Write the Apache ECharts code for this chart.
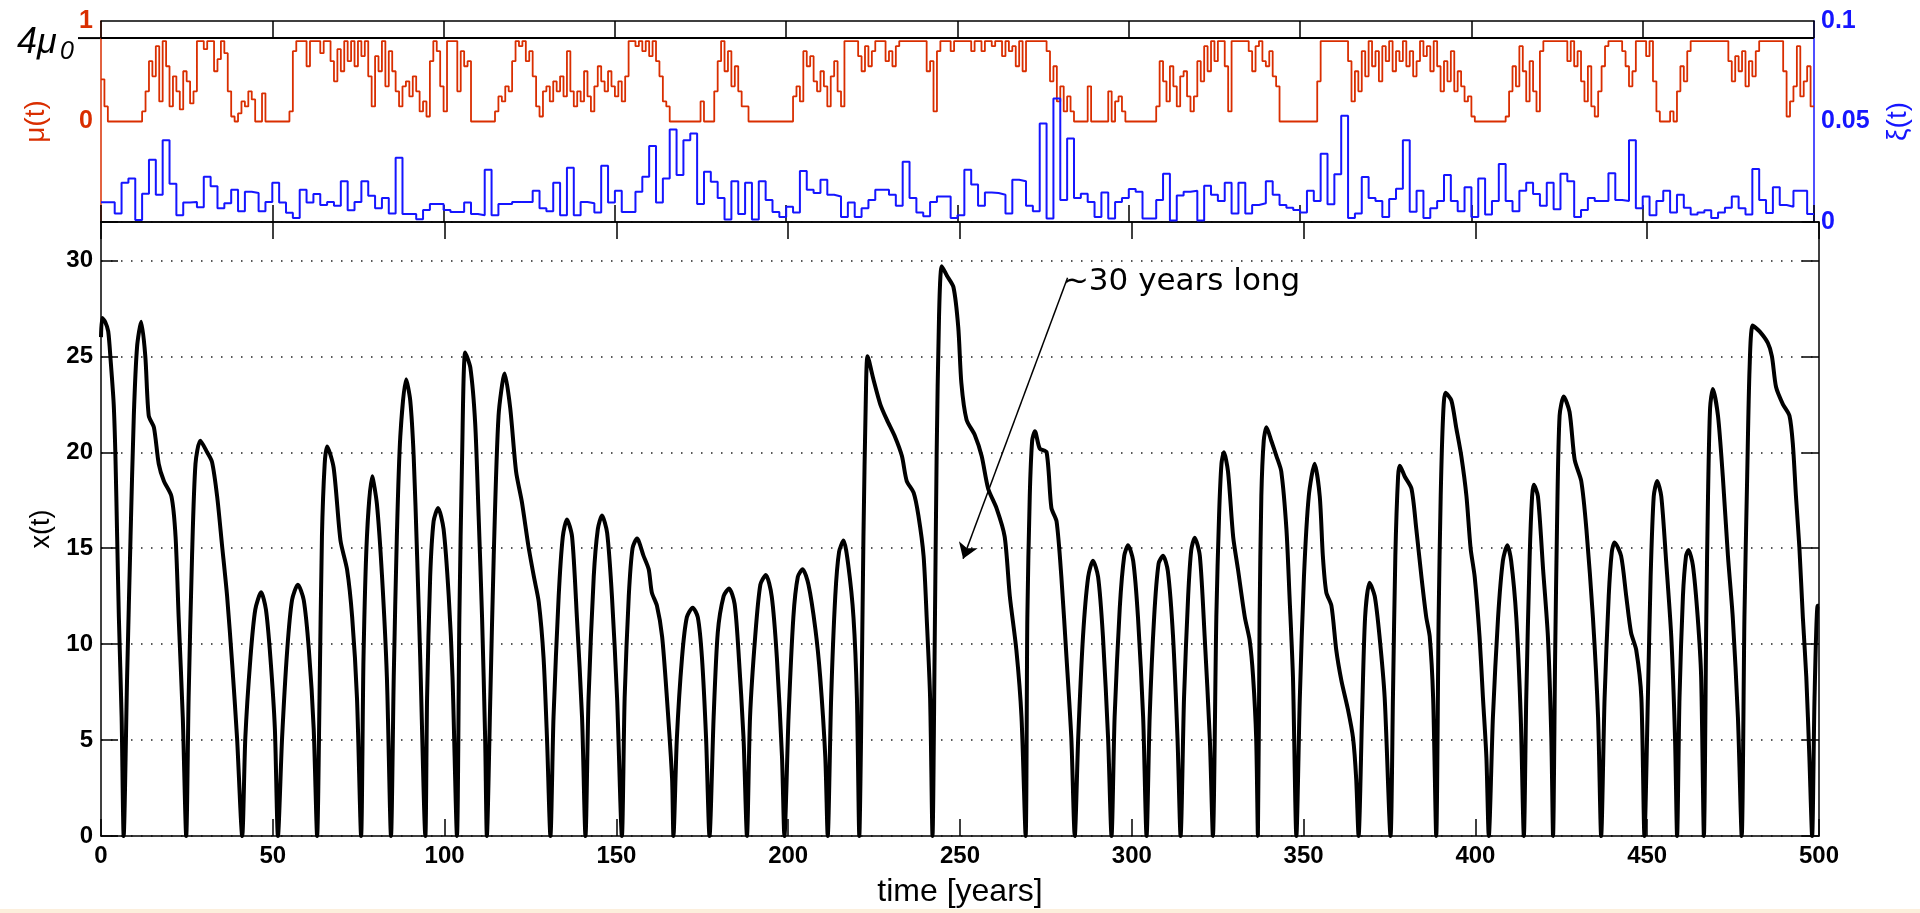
<!DOCTYPE html>
<html>
<head>
<meta charset="utf-8">
<title>mu(t), xi(t), x(t)</title>
<script src="https://cdn.jsdelivr.net/npm/echarts@6/dist/echarts.min.js"></script>
<style>
html, body { margin: 0; padding: 0; background: #fff; }
#main { width: 1920px; height: 913px; }
</style>
</head>
<body>
<div id="main"></div>
<script>
// mu(t), one value per year (0..499)
var muValue = [
  .42,.15,0,0,0,0,0,0,0,0,
  0,0,.1,.3,.6,.45,.75,.2,.8,.55,
  .15,.45,.3,.12,.5,.4,.18,.3,.8,.8,
  .72,.8,.8,.5,.62,.8,.68,.3,.05,0,
  .08,.2,.15,.3,.22,0,0,.28,0,0,
  0,0,0,0,0,.1,.7,.8,.8,.8,
  .55,.8,.8,.8,.68,.8,.8,.6,.4,.72,
  .5,.8,.6,.8,.55,.8,.65,.8,.45,.15,
  .65,.5,.8,.35,.7,.5,.3,.15,.35,.4,
  .25,.45,.3,.1,.2,.05,.6,.8,.7,.35,
  .1,.8,.8,.8,.3,.7,.55,.6,0,0,
  0,0,0,0,0,.1,.25,.2,.35,.3,
  .6,.8,.75,.8,.6,.7,.45,.15,.05,.3,
  .35,.2,.4,.3,.45,.25,.7,.3,.15,.3,
  .2,.5,.25,.1,.35,.55,.4,.3,.5,.35,
  .25,.4,.2,.45,.8,.8,.75,.8,.7,.8,
  .65,.8,.6,.45,.2,.15,0,0,0,0,
  0,0,0,0,0,.2,0,0,0,.3,
  .6,.8,.5,.7,.35,.55,.3,.15,.15,0,
  0,0,0,0,0,0,0,0,0,0,
  0,0,.25,.35,.2,.7,.55,.65,.4,.3,
  .5,.35,.15,.45,.6,.3,.15,.8,.8,.8,
  .8,.65,.5,.75,.55,.7,.8,.8,.8,.6,
  .7,.55,.75,.8,.8,.8,.8,.8,.8,.8,
  .8,.5,.6,.1,.7,.8,.8,.8,.7,.8,
  .8,.8,.8,.8,.7,.8,.8,.7,.8,.8,
  .75,.8,.8,.65,.8,.7,.75,.55,.8,.5,
  .8,.8,.8,.8,.8,.8,.7,.4,.55,.2,
  .35,.1,.25,.1,0,0,0,0,.35,0,
  0,0,0,0,.3,0,.2,.25,.1,0,
  0,0,0,0,0,0,0,0,.15,.6,
  .4,.2,.55,.35,.15,.45,.5,.25,.1,.25,
  .6,.4,.75,.5,.8,.6,.8,.8,.55,.1,
  .8,.8,.8,.8,.8,.7,.5,.75,.8,.6,
  .55,.7,.45,.35,0,0,0,0,0,0,
  0,0,0,0,0,.4,.8,.8,.8,.8,
  .8,.8,.8,.8,.6,.2,.5,.3,.7,.45,
  .8,.55,.7,.4,.75,.6,.8,.5,.7,.6,
  .8,.55,.7,.45,.6,.8,.65,.75,.5,.8,
  .55,.3,.6,.4,.7,.3,.5,.35,.2,.25,
  .05,0,0,0,0,0,0,0,0,0,
  .05,.3,.55,.35,.75,.5,.2,.6,.3,.1,
  .7,.8,.8,.8,.8,.8,.8,.8,.6,.8,
  .55,.7,.4,.2,.55,.15,.05,.3,.55,.75,
  .8,.8,.8,.8,.7,.55,.35,.5,.8,.8,
  .8,.65,.8,.4,.1,0,0,0,.1,0,
  .3,.55,.4,.7,.8,.8,.8,.8,.8,.8,
  .8,.8,.8,.8,.8,.6,.4,.65,.5,.7,
  .35,.6,.45,.7,.8,.8,.8,.8,.8,.8,
  .8,.5,.05,.2,.35,.75,.25,.4,.55,.15
];

// xi(t), one value per 2-year step
var xiStep = 2;
var xiValue = [
  .0098,.0098,.0042,.0195,.0217,.001,.014,.031,.0135,.0407,
  .019,.0034,.0097,.010,.0073,.0225,.0178,.0068,.0093,.016,
  .0054,.015,.0144,.0054,.010,.0195,.0097,.0046,.002,.016,
  .0097,.0139,.0085,.010,.0081,.0203,.0059,.010,.0203,.013,
  .0068,.0119,.0042,.032,.004,.004,.0014,.006,.009,.009,
  .006,.005,.005,.0097,.004,.0034,.026,.0034,.009,.009,
  .010,.010,.010,.0156,.0068,.0054,.0195,.0034,.027,.0034,
  .010,.0093,.0047,.028,.0097,.0156,.005,.005,.015,.0225,
  .0378,.0097,.0217,.046,.0234,.0407,.044,.009,.025,.02,
  .0119,.0012,.0203,.004,.0195,.0012,.0203,.011,.005,.0025,
  .0076,.0047,.0254,.016,.0144,.021,.0136,.0127,.0025,.0097,
  .0025,.0068,.011,.016,.016,.0136,.0081,.03,.0119,.0047,
  .0029,.010,.0127,.0127,.002,.0034,.026,.0186,.0081,.0147,
  .0144,.0136,.0042,.021,.0203,.0081,.0054,.049,.0017,.0614,
  .011,.0415,.0119,.014,.010,.0025,.0147,.0017,.010,.0119,
  .0164,.015,.0017,.0017,.011,.024,.0008,.0132,.015,.0156,
  .0008,.018,.0136,.0105,.0195,.0042,.0195,.0042,.0085,.0093,
  .0203,.0136,.0085,.0071,.006,.0047,.0156,.0105,.0339,.0088,
  .0237,.0529,.002,.0042,.0224,.0119,.0105,.0025,.0115,.0166,
  .0407,.0051,.0156,.002,.0068,.0105,.0234,.0105,.0054,.0173,
  .0025,.0217,.0037,.0105,.0288,.0105,.0054,.0156,.0195,.0139,
  .0081,.0195,.0064,.024,.0203,.0025,.006,.0119,.0105,.0105,
  .0242,.011,.0105,.0407,.0068,.0127,.0034,.0105,.0156,.0047,
  .0136,.0071,.0037,.0047,.0059,.002,.0047,.0071,.0127,.0068,
  .0037,.0264,.011,.0045,.0173,.0085,.0076,.0156,.0156,.004
];

// x(t): sample times [years] and values
var xTime = [
  0,0.34,1.2,2.1,2.8,3.7,4.2,4.7,5.2,6,6.6,
  7.6,8.6,9.55,10.5,11.7,12.9,13.9,15.4,16.8,18.3,20.5,21.7,22.6,23.8,24.8,
  25.5,26.5,27.5,28.9,30.9,32.3,33.8,35.2,36.7,38.2,39.6,41.1,
  42,43.5,44.9,46.6,48,49.3,50.6,51.5,
  52.7,54.2,55.6,57.3,59,60.5,61.9,62.9,
  63.6,64.3,65.1,65.8,67.7,69.7,71.6,73.1,74.5,75.7,
  76.4,77.4,78.9,80.3,81.8,83.2,84.4,
  85.2,86.1,87.1,88.8,90,91,92,92.9,94.4,
  94.9,95.8,96.8,98.1,99.7,101.2,102.3,103.6,
  104.3,105.1,106,107.5,108.9,109.9,110.9,111.8,112.3,
  113.3,114.3,115.7,117.5,119.1,120.8,122.5,124.4,126,127.4,128.8,129.8,130.8,
  131.7,133.2,134.4,135.6,137.1,138.5,140,141,
  141.9,143.4,144.6,145.8,147.3,148.7,150.2,151.6,
  152.4,153.6,154.7,156,157.9,159.4,160.3,161.8,163.3,164.7,166.2,166.6,
  167.6,169.1,170.5,172.2,173.7,174.9,176.1,177.1,
  178.3,179.5,181.2,182.8,184.4,185.5,187,188,
  188.9,190.4,191.9,193.5,195.2,196.7,198.2,198.9,
  200.1,201.5,202.8,204.2,205.9,207.9,209.3,210.8,211.5,
  212.5,213.7,214.8,216.1,217.5,219,220,220.7,
  221.2,221.9,222.6,223.1,224.8,226.8,228.7,231.1,233.1,234.5,236.5,237.9,239.4,240.3,241.3,242,
  242.6,243.2,243.9,244.7,246.2,248.1,249.5,250.4,251.9,254.3,256.3,258.2,260.6,263,264.5,266.4,267.9,269.1,
  269.6,270.3,271,271.8,273.2,275.2,276.6,278.1,279.5,281,282.4,283.4,
  284.4,285.8,287.3,288.7,290.2,291.6,293.1,294.1,
  295,296.5,297.8,298.9,300.4,301.8,303.3,304.3,
  305.2,306.5,307.8,309.1,310.5,312,313.3,314.2,
  315.2,316.4,317.3,318.3,319.8,321.2,322.7,323.6,
  324.6,325.4,326.1,326.8,328,329.5,330.9,332.9,334.3,335.3,336.2,336.7,
  337.2,337.7,338.4,339.2,340.6,342.1,343.5,345,345.9,346.9,347.9,
  348.9,350.1,351.5,353.2,354.7,355.6,356.6,358.1,359.5,361,362.9,364.4,365.3,366,
  367,367.9,369.2,370.7,372.1,373.6,375.3,
  376,376.7,377.5,378,379.4,381.4,382.8,384.3,385.7,386.7,387.7,388.6,
  389.3,389.9,390.6,391.3,393,394.4,395.9,397.4,398.6,399.8,401.2,402.2,403.2,403.9,
  405.1,406.6,408,409.3,410.4,411.9,413.2,414.1,
  414.8,415.8,416.5,417,418.2,419.7,421.1,422.1,422.6,
  423.2,423.8,424.5,425.7,427.4,428.9,430.8,432.3,434.2,435.7,436.6,
  437.6,438.8,439.7,440.5,442.4,443.9,445.3,446.8,448.3,449.2,
  450.2,451,451.9,452.9,454.1,455.5,457,458.1,458.7,
  459.4,460.4,461.3,462,463.3,464.7,465.7,466.5,
  467.2,467.7,468.3,469.1,470.6,472,473.5,474.9,476.4,477.5,
  478.3,479.1,479.8,480.7,482.7,485.1,486.3,487.5,489.5,491.4,492.4,493.3,494.3,495.3,496.3,497.2,498,
  498.7,499.6,500
];
var xValue = [
  26,27,26.8,26.3,24.8,22.5,19.8,15.6,11.4,6.2,0,
  8.3,15.6,21.9,25.5,26.8,25,21.9,21.3,19.4,18.5,17.7,15.6,11.4,6.2,0,
  7.2,14.6,19.4,20.6,20,19.5,17.7,15.2,12.5,8.9,5.1,0,
  5.1,9.3,11.8,12.7,11.8,9.3,5.6,0,
  5.1,9.7,12.3,13.1,12.3,9.7,5.6,0,
  7.2,15.6,19.4,20.3,19.2,15.4,13.9,11.4,7.2,0,
  9.3,15.6,18.75,17.3,13.5,8.3,0,
  8.3,15.6,20.8,23.8,22.7,19.8,14.6,9.3,0,
  7.2,13.5,16.4,17.1,16,12.5,8.3,0,
  11.4,19.8,25.2,24.4,21.5,16.7,11.4,5.1,0,
  7.2,14.6,21.9,24.1,22.3,19,17.4,15.1,13.5,12.2,9.3,5.1,0,
  6.2,12.5,15.6,16.5,15.6,11.4,6.2,0,
  7.2,13.5,16,16.7,15.8,12.5,7.2,0,
  7.2,12.5,15,15.5,14.6,13.9,12.7,12,10.4,7.2,3,0,
  5.1,9.3,11.4,11.9,11.4,9.3,5.1,0,
  6.2,10.6,12.5,12.9,12.1,9.7,5.1,0,
  6.2,10.4,13.1,13.6,12.5,9.3,4.1,0,
  6.2,11.4,13.5,13.9,13.1,10.8,8.3,4.1,0,
  7.2,12.5,14.8,15.4,14.1,11.4,7.2,0,
  5.1,15.6,22.9,25,23.8,22.5,21.7,20.8,19.8,18.5,17.9,16.7,14.6,11.4,7.2,0,
  9.3,19.8,27.1,29.7,29.2,28.6,26.5,23.6,21.7,20.9,19.8,18.1,17.1,15.6,12.5,9.7,6.2,0,
  11.4,17.7,20.6,21.1,20.2,20,17.1,16.4,13.5,9.3,5.1,0,
  5.1,10.4,13.5,14.35,13.5,10.4,5.1,0,
  6.2,11.9,14.6,15.15,14.35,11.4,6.2,0,
  6.2,11.4,14.2,14.6,13.8,10.4,5.1,0,
  7.2,12.5,14.9,15.55,14.6,10.4,5.1,0,
  11.4,16.7,19.4,20,19,15.6,13.9,11.4,10.2,8.3,5.1,0,
  11.4,17.7,20.6,21.3,20.6,19.8,19,16,12.5,8.3,0,
  7.2,13.5,17.7,19.4,17.7,14.6,12.7,12,9.7,8.1,6.6,5.1,3,0,
  6.2,11.4,13.2,12.5,10.4,7.2,0,
  7.2,14.6,18.75,19.3,18.75,18.1,16,13.5,11.4,10.4,7.2,0,
  11.4,17.7,21.9,23.1,22.7,21.3,19.8,17.7,15,13.5,10.4,7.2,4.1,0,
  6.2,11.4,14.35,15.15,14.35,11.4,6.2,0,
  7.2,14.6,17.7,18.3,17.7,13.9,10.4,5.1,0,
  9.3,16.7,21.9,22.9,22.1,19.6,18.5,16,11.4,6.2,0,
  7.2,12.5,14.8,15.3,14.6,12.5,10.6,9.7,7.2,0,
  7.2,13.5,17.7,18.5,17.7,14.35,10.4,5.1,0,
  7.2,12.5,14.6,14.9,14.1,11.4,8.3,0,
  11.4,17.7,22.3,23.3,21.9,18.75,14.6,11.4,6.2,0,
  11.4,18.75,24.4,26.6,26.3,25.7,25,23.4,22.5,21.9,20.4,17.7,15,11.4,8.3,4.1,0,
  7.2,12,12
];

var mu4 = 0.83;               // the 4*mu0 level
var arrowFrom = [281.3, 29.1];
var arrowTo = [250.9, 14.45];
var noteText = '~30 years long';

var font = 'Liberation Sans, Arial, sans-serif';
var red = '#d92e00';
var blue = '#1515ff';

var muData = muValue.map(function (v, i) { return [i, v]; });
muData.push([muValue.length, muValue[muValue.length - 1]]);
var xiData = xiValue.map(function (v, k) { return [k * xiStep, v]; });
xiData.push([xiValue.length * xiStep, xiValue[xiValue.length - 1]]);
var xData = [];
for (var i = 0; i < Math.min(xTime.length, xValue.length); i++) {
  xData.push([xTime[i], xValue[i]]);
}

function frameX(grid, pos, labels) {
  return {
    type: 'value', gridIndex: grid, position: pos,
    min: 0, max: 500, interval: 50,
    axisLine: { show: true, onZero: false, lineStyle: { color: '#000', width: 1.5 } },
    axisTick: { show: true, inside: true, length: 17, lineStyle: { color: '#000', width: 1.5 } },
    axisLabel: { show: !!labels, color: '#000', fontSize: 24, fontWeight: 'bold', fontFamily: font, margin: 8 },
    splitLine: { show: false }
  };
}

var dom = document.getElementById('main');
var myChart = echarts.init(dom);

var bottomX = frameX(1, 'bottom', true);
bottomX.name = 'time [years]';
bottomX.nameLocation = 'middle';
bottomX.nameGap = 40;
bottomX.nameTextStyle = { color: '#000', fontSize: 32, fontFamily: font };

var option = {
  animation: false,
  backgroundColor: '#fff',
  grid: [
    { left: 101, right: 101, top: 21, height: 201 },
    { left: 101, right: 101, top: 222, height: 623 }
  ],
  xAxis: [frameX(0, 'bottom'), frameX(0, 'top'), bottomX, frameX(1, 'top')],
  yAxis: [
    {
      type: 'value', gridIndex: 0, position: 'left', min: -1, max: 1, interval: 1,
      axisLine: { show: true, onZero: false, lineStyle: { color: red, width: 1.5 } },
      axisTick: { show: false },
      splitLine: { show: false },
      axisLabel: {
        color: red, fontSize: 25, fontWeight: 'bold', fontFamily: font, margin: 8,
        formatter: function (v) { return v >= 0 ? String(v) : ''; }
      },
      name: 'μ(t)', nameLocation: 'middle', nameRotate: 90, nameGap: 51,
      nameTextStyle: { color: red, fontSize: 28, fontFamily: font }
    },
    {
      type: 'value', gridIndex: 0, position: 'right', min: 0, max: 0.1, interval: 0.05,
      axisLine: { show: true, onZero: false, lineStyle: { color: blue, width: 1.5 } },
      axisTick: { show: false },
      splitLine: { show: false },
      axisLabel: { color: blue, fontSize: 25, fontWeight: 'bold', fontFamily: font, margin: 7 },
      name: 'ξ(t)', nameLocation: 'middle', nameRotate: 90, nameGap: 70,
      nameTextStyle: { color: blue, fontSize: 28, fontFamily: font }
    },
    {
      type: 'value', gridIndex: 1, position: 'left', min: 0, max: 32, interval: 5,
      axisLine: { show: true, onZero: false, lineStyle: { color: '#000', width: 1.5 } },
      axisTick: { show: true, inside: true, length: 17, lineStyle: { color: '#000', width: 1.5 } },
      splitLine: { show: true, lineStyle: { color: '#222', width: 1.5, type: [1.5, 8.5] } },
      axisLabel: {
        color: '#000', fontSize: 24, fontWeight: 'bold', fontFamily: font, margin: 8,
        formatter: function (v) { return v % 5 === 0 ? String(v) : ''; }
      },
      name: 'x(t)', nameLocation: 'middle', nameRotate: 90, nameGap: 42,
      nameTextStyle: { color: '#000', fontSize: 27, fontFamily: font }
    },
    {
      type: 'value', gridIndex: 1, position: 'right', min: 0, max: 32, interval: 5,
      axisLine: { show: true, onZero: false, lineStyle: { color: '#000', width: 1.5 } },
      axisTick: { show: true, inside: true, length: 17, lineStyle: { color: '#000', width: 1.5 } },
      splitLine: { show: false },
      axisLabel: { show: false }
    }
  ],
  series: [
    {
      name: 'mu', type: 'line', xAxisIndex: 0, yAxisIndex: 0,
      data: muData, step: 'end', showSymbol: false, sampling: null,
      lineStyle: { color: red, width: 1.8 },
      markLine: {
        silent: true, symbol: 'none', animation: false,
        label: { show: false },
        lineStyle: { color: '#000', width: 2, type: 'solid' },
        data: [{ yAxis: mu4 }]
      }
    },
    {
      name: 'xi', type: 'line', xAxisIndex: 0, yAxisIndex: 1,
      data: xiData, step: 'end', showSymbol: false,
      lineStyle: { color: blue, width: 2 }
    },
    {
      name: 'x', type: 'line', xAxisIndex: 2, yAxisIndex: 2,
      data: xData, showSymbol: false, smooth: 0.25,
      lineStyle: { color: '#000', width: 4 },
      markLine: {
        silent: true, animation: false,
        symbol: ['none', 'arrow'], symbolSize: 15,
        label: { show: false },
        lineStyle: { color: '#000', width: 1.5, type: 'solid' },
        data: [[{ coord: arrowFrom }, { coord: arrowTo }]]
      },
      markPoint: {
        silent: true, animation: false,
        symbol: 'circle', symbolSize: 1,
        itemStyle: { color: 'rgba(0,0,0,0)' },
        label: {
          show: true, position: 'right', distance: 0,
          color: '#000', fontSize: 31, fontFamily: 'DejaVu Sans',
          formatter: noteText
        },
        data: [{ coord: [arrowFrom[0] - 1.5, 28.9] }]
      }
    }
  ]
};

if (option && typeof option === 'object') {
  myChart.setOption(option, true);
}

// 4*mu0 marker text at the left of the top panel
var yRef = myChart.convertToPixel({ yAxisIndex: 0 }, mu4);
var xLeft = myChart.convertToPixel({ xAxisIndex: 0 }, 0);
myChart.setOption({
  graphic: [
    { type: 'line', shape: { x1: xLeft - 23, y1: yRef, x2: xLeft, y2: yRef },
      style: { stroke: '#000', lineWidth: 2 } },
    { type: 'text', style: { x: 17, y: yRef + 5, text: '4μ', fill: '#000',
      font: 'italic 36px Liberation Sans', verticalAlign: 'middle' } },
    { type: 'text', style: { x: 60, y: yRef + 14, text: '0', fill: '#000',
      font: 'italic 25px Liberation Sans', verticalAlign: 'middle' } },
    { type: 'rect', shape: { x: 0, y: 909, width: 1920, height: 4 },
      style: { fill: '#fcefdc' } }
  ]
});
</script>
</body>
</html>
